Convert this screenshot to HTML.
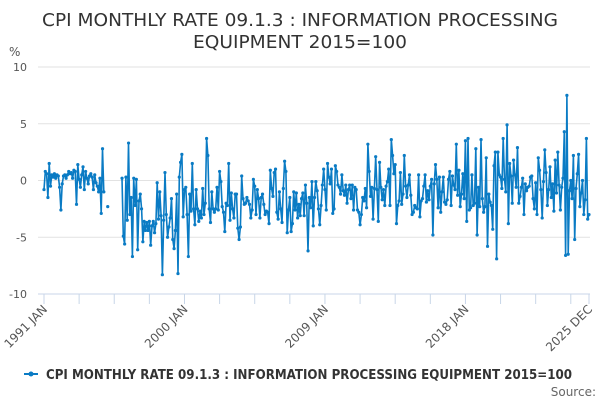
<!DOCTYPE html>
<html><head><meta charset="utf-8"><style>
body{margin:0;background:#fff;width:600px;height:400px;overflow:hidden;font-family:"Liberation Sans","DejaVu Sans",sans-serif}
</style></head><body>
<svg id="chart" width="600" height="400" xmlns="http://www.w3.org/2000/svg" font-family="DejaVu Sans, Liberation Sans, sans-serif">
<text x="300" y="26" text-anchor="middle" font-size="18" fill="#333" textLength="516" lengthAdjust="spacingAndGlyphs">CPI MONTHLY RATE 09.1.3 : INFORMATION PROCESSING</text>
<text x="300" y="48" text-anchor="middle" font-size="18" fill="#333" textLength="214" lengthAdjust="spacingAndGlyphs">EQUIPMENT 2015=100</text>
<text x="9" y="56" font-size="12" fill="#555">%</text>
<g id="grid"></g><g id="xaxis"></g><g id="series"></g>
<g>
<line x1="24" y1="374" x2="38" y2="374" stroke="#0a7bc4" stroke-width="2"/><circle cx="31" cy="374" r="2.5" fill="#0a7bc4"/>
<text x="46" y="379" font-size="13" font-weight="bold" fill="#333" textLength="526" lengthAdjust="spacingAndGlyphs">CPI MONTHLY RATE 09.1.3 : INFORMATION PROCESSING EQUIPMENT 2015=100</text></g>
<text x="596" y="396" text-anchor="end" font-size="12" fill="#666">Source:</text>
</svg>
<script>
const yTicks=[10,5,0,-5,-10];
const xTickLabels=["1991 JAN","2000 JAN","2009 JAN","2018 JAN","2025 DEC"];
const xTickIdx=[0,108,216,324,419];
const values=[
-0.8,0.8,0.6,-1.5,1.5,-0.5,0.5,0.3,0.6,0.2,0.5,0.4,
-0.6,-2.6,-0.3,0.4,0.5,0.2,0.5,0.8,0.6,0.7,0.2,0.9,
0.8,-2.1,1.4,0.1,-0.6,0.5,1.2,-0.8,0.8,0.2,-0.3,0.4,
0.6,0.3,-0.8,0.5,-0.2,-0.5,-1.0,0.2,-2.9,2.8,-1.0,null,
null,-2.3,null,null,null,null,null,null,null,null,null,null,
0.2,-4.9,-5.6,0.3,-3.5,3.3,-3.0,-1.5,-6.7,0.2,-2.2,0.1,
-6.1,-1.8,-1.2,-2.5,-5.4,-3.6,-4.4,-3.7,-4.4,-3.6,-5.7,-4.0,
-3.6,-4.6,-3.8,-0.2,-3.4,-1.0,-3.1,-8.3,-3.5,0.7,-3.0,-5.0,
-4.1,-3.3,-1.6,-5.2,-6.0,-4.4,-1.2,-8.2,0.3,1.6,2.3,-3.2,
-0.8,-0.6,-3.0,-6.7,-1.2,-2.7,1.5,-2.5,-3.9,-0.8,-2.5,-3.6,
-2.7,-3.3,-0.7,-3.0,-2.0,3.7,2.2,-2.5,-3.7,-1.0,-2.5,-2.8,
-2.5,-0.6,-2.6,0.8,-0.1,-2.3,-2.8,-4.5,-2.0,-2.2,1.5,-3.5,
-1.1,-2.5,-3.3,-1.2,-1.2,-4.2,-5.2,-4.1,0.4,-1.6,-2.1,-2.0,
-1.5,-1.8,-2.1,-3.3,-2.6,0.1,-0.5,-3.0,-0.8,-1.6,-3.3,-1.5,
-1.2,-2.1,-3.0,-2.7,-2.8,-3.8,0.9,-0.7,-1.4,0.7,1.0,-2.8,
-3.4,-1.0,-2.5,-3.7,-0.7,1.7,0.8,-4.6,-2.6,-1.5,-4.5,-3.8,
-1.0,-2.6,-1.1,-3.3,-2.1,-3.1,-1.6,-1.1,-3.1,-0.4,-2.0,-6.2,
-1.5,-2.4,-0.1,-4.0,-1.5,-0.1,-0.9,-2.5,-3.9,-2.2,-0.4,1.0,
-0.8,-2.6,1.5,0.3,-0.3,1.0,-2.9,-2.5,1.3,0.8,-0.4,-0.6,
-1.2,0.5,-0.9,-1.3,-0.4,-2.0,-0.8,-0.4,-1.6,-0.4,-2.6,-0.6,
-0.8,-2.6,-2.8,-3.9,-3.0,-1.5,-1.8,-0.7,-2.4,3.2,0.8,-1.4,
-0.6,-3.4,-0.7,2.1,-0.8,-3.6,1.6,-0.6,-1.7,-0.8,-2.2,-0.5,
-0.1,1.0,-2.2,3.6,2.2,0.6,1.4,-3.8,-2.2,-1.8,0.7,-2.1,
-1.2,2.2,-0.5,-1.5,-0.4,0.5,-1.3,-3.0,-2.8,-2.2,-2.4,-2.5,
0.5,-3.2,-1.8,-1.6,-0.5,0.5,-1.9,-0.9,-1.7,-0.5,0.1,-4.8,
-0.3,1.4,0.1,-2.4,0.3,-2.8,-1.0,0.3,-1.9,-2.1,-1.7,0.1,
0.8,-2.2,0.4,-0.4,-0.8,3.2,-1.3,0.9,-2.3,-1.2,0.6,-1.6,
3.5,-3.6,3.7,-2.6,-2.4,0.5,-2.2,-2.0,2.8,-4.8,-0.6,-2.3,
3.6,-1.6,-2.8,-2.3,2.0,-5.8,-1.2,-1.9,-2.2,-4.3,1.3,2.5,
-6.9,2.5,0.5,0.3,-0.7,3.7,0.1,-1.0,4.9,-3.8,1.5,0.4,
-2.0,1.8,0.5,-0.6,2.9,-2.0,-1.4,-0.6,0.2,-3.0,-0.3,-0.9,
-0.6,-0.5,0.3,0.4,-1.6,-2.5,-0.2,-3.0,2.0,0.9,-0.8,-3.3,
-0.1,2.7,0.7,-2.2,-0.8,1.2,-1.5,-0.3,-2.7,1.8,-1.1,2.5,
-0.4,-2.6,-0.6,0.2,4.3,-6.6,7.5,-6.5,-0.9,0.0,-1.6,2.2,
-5.2,-0.7,0.6,2.3,-2.3,-1.1,0.0,-3.0,-1.7,3.7,-3.4,-3.0
];
const NS="http://www.w3.org/2000/svg";
const X0=44,X1=589,Y0=180.5,PPU=11.35;
const n=values.length;
function xs(i){return X0+(X1-X0)*i/(n-1);}
function ys(v){return Y0-v*PPU;}
function mk(t,a,p){const e=document.createElementNS(NS,t);for(const k in a)e.setAttribute(k,a[k]);p.appendChild(e);return e;}
const grid=document.getElementById('grid');
yTicks.forEach(v=>{
 const l=mk('line',{x1:38,x2:590,y1:ys(v),y2:ys(v),stroke:v===-10?'#c8d6e8':'#e2e2e2','stroke-width':1},grid);
 
 
 const t=mk('text',{x:27,y:ys(v)+4,'text-anchor':'end','font-size':11,fill:'#555'},grid);
 t.textContent=String(v);
 
 
});
const xa=document.getElementById('xaxis');
for(let i=0;i<n;i+=27){
 const tk=mk('line',{x1:xs(i),x2:xs(i),y1:ys(-10),y2:ys(-10)+10,stroke:'#c8d6e8'},xa);
 
 
}
mk('line',{x1:xs(n-1),x2:xs(n-1),y1:ys(-10),y2:ys(-10)+10,stroke:'#c8d6e8'},xa);
xTickLabels.forEach((lab,k)=>{
 const x=xs(xTickIdx[k]);
 const t=mk('text',{x:x+4,y:ys(-10)+16,'text-anchor':'end','font-size':12,fill:'#555',transform:`rotate(-45 ${x+4} ${ys(-10)+16})`},xa);
 t.textContent=lab;
 
 
});
const s=document.getElementById('series');
let d='',pen=false;
values.forEach((v,i)=>{
 if(v===null){pen=false;return;}
 d+=(pen?'L':'M')+xs(i).toFixed(1)+' '+ys(v).toFixed(1);pen=true;
});
const p=mk('path',{d:d,fill:'none',stroke:'#0a7bc4','stroke-width':1.6,'stroke-linejoin':'round'},s);


values.forEach((v,i)=>{
 if(v===null)return;
 const c=mk('circle',{cx:xs(i),cy:ys(v),r:1.6,fill:'#0a7bc4'},s);
 
 
});
</script>
</body></html>
